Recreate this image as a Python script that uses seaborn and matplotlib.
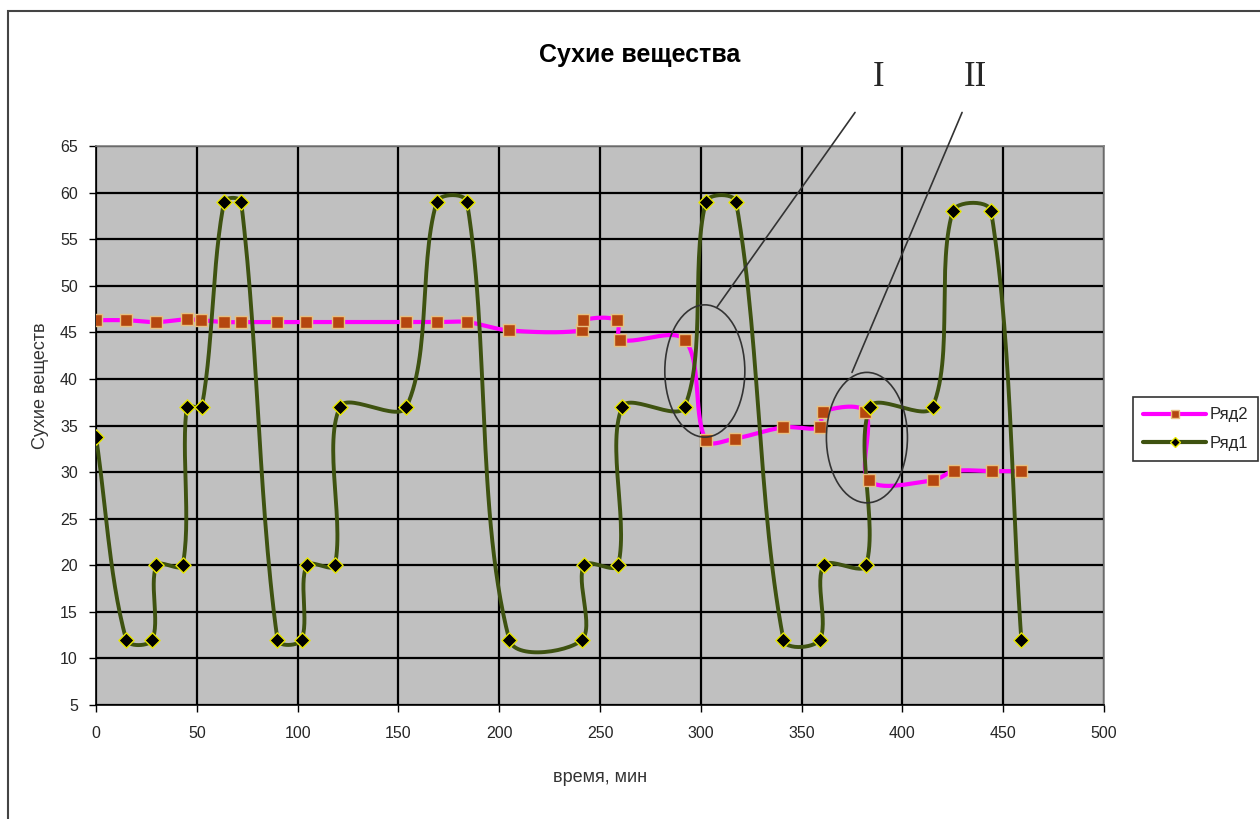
import numpy as np
import matplotlib
matplotlib.use("Agg")
import matplotlib.pyplot as plt
from matplotlib.lines import Line2D
from matplotlib.patches import Ellipse, Rectangle
import seaborn as sns

# Ряд1 (dark olive, diamonds)
x1 = [0, 15, 28, 30, 43, 45, 52.5, 63.5, 72, 90, 102, 104.5, 118.5, 121, 154, 169, 184,
      205, 241, 242, 259, 261, 292, 302.5, 317.5, 341, 359, 361, 382, 384, 415, 425, 444, 459]
y1 = [33.8, 12, 12, 20, 20, 37, 37, 59, 59, 12, 12, 20, 20, 37, 37, 59, 59,
      12, 12, 20, 20, 37, 37, 59, 59, 12, 12, 20, 20, 37, 37, 58, 58, 12]

# Ряд2 (magenta, squares)
x2 = [0, 15, 30, 45, 52, 63.5, 72, 90, 104, 120, 154, 169, 184, 205, 241, 241.5,
      258.5, 260, 292, 302.5, 317, 341, 359, 360.5, 381.5, 383.5, 415, 425.5, 444.5, 459]
y2 = [46.3, 46.3, 46.1, 46.4, 46.3, 46.1, 46.1, 46.1, 46.1, 46.1, 46.1, 46.1, 46.1, 45.2, 45.2, 46.3,
      46.3, 44.2, 44.2, 33.4, 33.6, 34.8, 34.8, 36.5, 36.5, 29.1, 29.1, 30.1, 30.1, 30.1]

x_ticks = list(range(0, 501, 50))
y_ticks = list(range(5, 66, 5))

# screen scale of one data unit (px), used so smoothing behaves like Excel's
SX, SY = 1008 / 500, 559 / 60


def excel_smooth(x, y, n=30):
    # chord-length weighted bezier smoothing, done in screen units
    p = np.column_stack([np.asarray(x) * SX, np.asarray(y) * SY]).astype(float)
    t = np.linspace(0, 1, n)[:, None]
    out = []
    for i in range(len(p) - 1):
        p0 = p[i - 1] if i > 0 else p[i]
        p3 = p[i + 2] if i + 2 < len(p) else p[i + 1]
        d0 = np.linalg.norm(p[i] - p0)
        d1 = np.linalg.norm(p[i + 1] - p[i])
        d2 = np.linalg.norm(p3 - p[i + 1])
        c1 = p[i] + (p[i + 1] - p0) * (d1 / max(d0 + d1, 1e-9)) / 3
        c2 = p[i + 1] - (p3 - p[i]) * (d1 / max(d1 + d2, 1e-9)) / 3
        seg = (1 - t) ** 3 * p[i] + 3 * (1 - t) ** 2 * t * c1 + 3 * (1 - t) * t ** 2 * c2 + t ** 3 * p[i + 1]
        out.append(seg if i == 0 else seg[1:])
    s = np.vstack(out)
    return s[:, 0] / SX, s[:, 1] / SY


sns.set_theme(style="white")
plt.rcParams['font.family'] = ['Liberation Sans', 'DejaVu Sans']

MAGENTA = "#FF00FF"
OLIVE = "#3E5210"
BROWN = "#B5470F"

fig = plt.figure(figsize=(12.6, 8.19), dpi=100)
ax = fig.add_axes([96 / 1260, 1 - 705 / 819, 1008 / 1260, 559 / 819])
ax.set_facecolor("#C0C0C0")

# outer chart frame
fig.patches.append(Rectangle((8 / 1260, -0.1), 1.2, 1 - 11 / 819 + 0.1, transform=fig.transFigure,
                             fill=False, edgecolor="#444444", lw=1.5, zorder=0))

sx2, sy2 = excel_smooth(x2, y2)
sx1, sy1 = excel_smooth(x1, y1)
sns.lineplot(x=sx2, y=sy2, sort=False, estimator=None, color=MAGENTA, lw=3, ax=ax, zorder=3)
sns.lineplot(x=sx1, y=sy1, sort=False, estimator=None, color=OLIVE, lw=2.8, ax=ax, zorder=4)
sns.scatterplot(x=x2, y=y2, marker="s", s=85, color=BROWN, edgecolor="#E8C080", linewidth=1,
                ax=ax, zorder=5)
sns.scatterplot(x=x1, y=y1, marker="D", s=60, color="black", edgecolor="#E8E800", linewidth=1,
                ax=ax, zorder=6)

ax.set_xlim(0, 500)
ax.set_ylim(5, 65)
ax.set_xticks(x_ticks)
ax.set_yticks(y_ticks)
ax.grid(True, color="black", lw=1.6)
ax.set_axisbelow(True)
ax.tick_params(axis="both", direction="out", length=5, width=1, color="black",
               labelsize=11.5, left=True, bottom=True)
ax.tick_params(axis="y", pad=8)
ax.tick_params(axis="x", pad=10)
for side in ["left", "bottom"]:
    ax.spines[side].set_color("black")
    ax.spines[side].set_linewidth(1.2)
for side in ["top", "right"]:
    ax.spines[side].set_color("#808080")
    ax.spines[side].set_linewidth(1.2)

ax.set_xlabel("время, мин", fontsize=13, color="#333333")
ax.xaxis.set_label_coords(0.5, -0.115)
ax.set_ylabel("Сухие веществ", fontsize=13, color="#333333")
ax.yaxis.set_label_coords(-0.047, 0.572)

fig.text(640 / 1260, 1 - 55 / 819, "Сухие вещества", ha="center", va="center",
         fontsize=18, fontweight="bold", color="black")

# annotations I and II
for cx, cy, w, h in [(302, 40.85, 39.7, 14.2), (382.4, 33.7, 40.2, 14.0)]:
    ax.add_patch(Ellipse((cx, cy), w, h, fill=False, edgecolor="#333333", lw=1.2, zorder=7))
ax.plot([376.5, 308], [68.6, 47.7], color="#333333", lw=1.2, clip_on=False, zorder=7)
ax.plot([429.6, 375], [68.6, 40.7], color="#333333", lw=1.2, clip_on=False, zorder=7)
ax.text(388, 72.3, "I", fontsize=25, family="Liberation Serif", ha="center", va="center")
ax.text(436, 72.3, "II", fontsize=25, family="Liberation Serif", ha="center", va="center")

handles = [
    Line2D([], [], color=MAGENTA, lw=3, marker="s", markersize=6, markerfacecolor=BROWN,
           markeredgecolor="#E8C080"),
    Line2D([], [], color=OLIVE, lw=3, marker="D", markersize=5, markerfacecolor="black",
           markeredgecolor="#E8E800"),
]
leg = fig.legend(handles, ["Ряд2", "Ряд1"], loc="center left",
                 bbox_to_anchor=(1133 / 1260, 1 - 429 / 819), fontsize=12, frameon=True,
                 fancybox=False, handlelength=3.8, borderpad=0.6, labelspacing=0.8,
                 handletextpad=0.2, borderaxespad=0)
leg.get_frame().set_edgecolor("black")
leg.get_frame().set_linewidth(1.2)

fig.savefig("out.png", dpi=100)
